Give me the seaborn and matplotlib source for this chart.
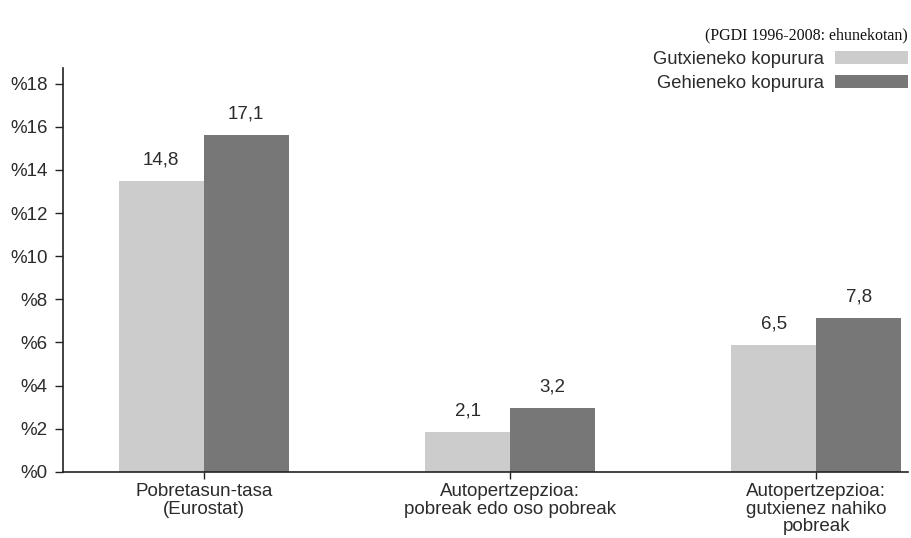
import pandas as pd
import matplotlib
matplotlib.use("Agg")
import matplotlib.pyplot as plt
import seaborn as sns

# Data (bar heights as drawn, labels as printed)
categories = ["Pobretasun-tasa\n(Eurostat)",
              "Autopertzepzioa:\npobreak edo oso pobreak",
              "Autopertzepzioa:\ngutxienez nahiko\npobreak"]
series = ["Gutxieneko kopurura", "Gehieneko kopurura"]
min_heights = [13.5, 1.85, 5.9]
max_heights = [15.6, 2.95, 7.15]
min_labels = ["14,8", "2,1", "6,5"]
max_labels = ["17,1", "3,2", "7,8"]
ytick_values = [0, 2, 4, 6, 8, 10, 12, 14, 16, 18]
colors = ["#cccccc", "#777777"]
subtitle = "(PGDI 1996-2008: ehunekotan)"

df = pd.DataFrame({
    "category": categories * 2,
    "series": [series[0]] * 3 + [series[1]] * 3,
    "value": min_heights + max_heights,
})

sns.set_style("white")
plt.rcParams["font.family"] = ["Liberation Sans", "DejaVu Sans"]
text_color = "#2b2b2b"
fs = 13.5

fig = plt.figure(figsize=(9.11, 5.38), dpi=100)
ax = fig.add_axes([0.069, 0.123, 0.928, 0.751])

sns.barplot(data=df, x="category", y="value", hue="series", palette=colors,
            width=0.555, saturation=1, linewidth=0, ax=ax, legend=True)

for container, labels in zip(ax.containers, [min_labels, max_labels]):
    ax.bar_label(container, labels=labels, padding=9, fontsize=fs, color=text_color)

ax.set_xlim(-0.46, 2.30)
ax.set_ylim(0, 18.74)
ax.set_yticks(ytick_values)
ax.set_yticklabels([f"%{v}" for v in ytick_values])
ax.set_xlabel("")
ax.set_ylabel("")

for side in ["top", "right"]:
    ax.spines[side].set_visible(False)
for side in ["left", "bottom"]:
    ax.spines[side].set_color("#222222")
    ax.spines[side].set_linewidth(1.2)

ax.tick_params(axis="y", length=6, width=1, color="#222222", labelsize=fs,
               labelcolor=text_color, pad=5, left=True)
ax.tick_params(axis="x", length=5, width=1, color="#222222", labelsize=fs,
               labelcolor=text_color, pad=3, bottom=True)
for lbl in ax.get_xticklabels():
    lbl.set_linespacing(1.05)

handles, labels = ax.get_legend_handles_labels()
ax.legend(handles, labels, loc="upper right",
          bbox_to_anchor=(908 / 911, 1 - 51 / 538), bbox_transform=fig.transFigure,
          frameon=False, markerfirst=False, handlelength=4.0, handleheight=0.65,
          handletextpad=0.6, labelspacing=0.38, borderpad=0, borderaxespad=0,
          fontsize=13.2, labelcolor=text_color)

fig.text(908 / 911, 1 - 35 / 538, subtitle, ha="right", va="center",
         family=["Liberation Serif", "DejaVu Serif"], fontsize=11.5, color="#111111")

fig.savefig("out.png", dpi=100)
